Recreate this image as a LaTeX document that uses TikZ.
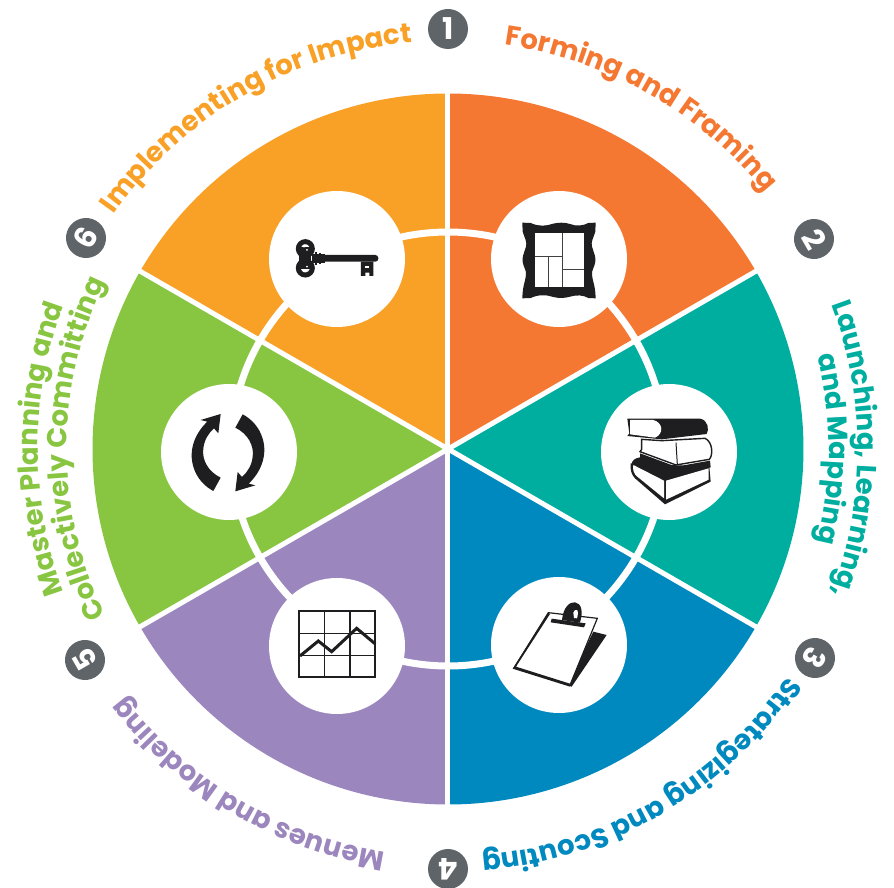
\documentclass[tikz,border=0pt]{standalone}
\usepackage{fontspec}
\setmainfont{Poppins}
\usetikzlibrary{decorations.text}
\definecolor{cForm}{HTML}{F47832}
\definecolor{cLaunch}{HTML}{00AEA0}
\definecolor{cStrat}{HTML}{0089BF}
\definecolor{cMenu}{HTML}{9B86BD}
\definecolor{cMaster}{HTML}{88C540}
\definecolor{cImpl}{HTML}{F9A026}
\definecolor{cBadge}{HTML}{5F6468}
\definecolor{cIcon}{HTML}{1E1E20}
\newcommand{\labfont}{\fontsize{27.5}{27.5}\selectfont\bfseries}
\tikzset{
  divider/.style={draw=white,line width=5pt},
  ringline/.style={draw=white,line width=7pt},
  hub/.style={circle,fill=white,minimum size=136pt,inner sep=0pt},
  badge/.style={circle,fill=cBadge,text=white,minimum size=40pt,inner sep=0pt,font=\fontsize{30}{30}\selectfont\bfseries},
  pixels/.style={shift={(-448,449)},yscale=-1},
  zoomat/.style 2 args={shift={(#1,#2)},scale=1/3},
  ink/.style={fill=cIcon,draw=none},
  inkline/.style={draw=cIcon,line join=miter},
  arclabel/.style 2 args={decorate,decoration={text along path,text color=#1,text align=center,text={|\labfont|#2}}}
}
\begin{document}
\begin{tikzpicture}[x=1pt,y=1pt]
\useasboundingbox (-448,-439) rectangle (446,449);
\coordinate (c) at (0,0);
\def\Rd{355.5}
% sectors
\fill[cForm] (c) -- (90:\Rd) arc[start angle=90,end angle=30,radius=\Rd] -- cycle;
\fill[cLaunch] (c) -- (30:\Rd) arc[start angle=30,end angle=-30,radius=\Rd] -- cycle;
\fill[cStrat] (c) -- (-30:\Rd) arc[start angle=-30,end angle=-90,radius=\Rd] -- cycle;
\fill[cMenu] (c) -- (-90:\Rd) arc[start angle=-90,end angle=-150,radius=\Rd] -- cycle;
\fill[cMaster] (c) -- (-150:\Rd) arc[start angle=-150,end angle=-210,radius=\Rd] -- cycle;
\fill[cImpl] (c) -- (150:\Rd) arc[start angle=150,end angle=90,radius=\Rd] -- cycle;
% dividers
\foreach \a/\n in {90/e1,30/e2,-30/e3,-90/e4,-150/e5,150/e6}{
  \coordinate (\n) at (\a:\Rd+2);
  \draw[divider] (c) -- (\n);
}
% ring
\draw[ringline] (c) circle[radius=217];
% hubs
\node[hub] (h1) at (111,190) {};
\node[hub] (h2) at (221,-3) {};
\node[hub] (h3) at (111,-196) {};
\node[hub] (h4) at (-111,-197) {};
\node[hub] (h5) at (-219,-3) {};
\node[hub] (h6) at (-111,190) {};
% badges
\node[badge] (b1) at (0,420) {1};
\node[badge,rotate=-60] (b2) at (366,210) {2};
\node[badge,rotate=-120] (b3) at (367,-209) {3};
\node[badge,rotate=180] (b4) at (0,-420) {4};
\node[badge,rotate=120] (b5) at (-363,-211) {5};
\node[badge,rotate=60] (b6) at (-362,211) {6};
% labels
\path[arclabel={cForm}{Forming and Framing}] (85.5:408) arc[start angle=85.5,end angle=35.5,radius=408];
\path[arclabel={cLaunch}{Launching, Learning,}] (30:410) arc[start angle=30,end angle=-30,radius=410];
\path[arclabel={cLaunch}{and Mapping}] (30:381) arc[start angle=30,end angle=-30,radius=381];
\path[arclabel={cStrat}{Strategizing and Scouting}] (-20:408) arc[start angle=-20,end angle=-99,radius=408];
\path[arclabel={cMenu}{Menues and Modeling}] (-95:408) arc[start angle=-95,end angle=-146.4,radius=408];
\path[arclabel={cMaster}{Master Planning and}] (-150:410) arc[start angle=-150,end angle=-210,radius=410];
\path[arclabel={cMaster}{Collectively Committing}] (-145:381) arc[start angle=-145,end angle=-215,radius=381];
\path[arclabel={cImpl}{Implementing for Impact}] (158:408) arc[start angle=158,end angle=82,radius=408];
% icons
\begin{scope}[pixels]
% key
\begin{scope}[zoomat={260}{190}]
  \draw[inkline,line width=5pt] (136,176) circle[radius=21];
  \draw[inkline,line width=5pt] (136,234) circle[radius=21];
  \fill[ink] (118,172) rectangle (152,238);
  \fill[white] (132,168) circle[radius=5];
  \fill[white] (141,180) circle[radius=3];
  \fill[white] (132,242) circle[radius=5];
  \fill[white] (141,230) circle[radius=3];
  \fill[white] (105,200) rectangle (112,210);
  \fill[ink] (155,192) rectangle (195,218);
  \fill[ink] (165,186) rectangle (172,224);
  \fill[ink] (178,188) rectangle (184,222);
  \fill[ink,rounded corners=3pt] (185,195) rectangle (355,215);
  \fill[ink] (303,215) -- (340,215) -- (340,258) -- (328,258) -- (328,248) -- (316,248) -- (316,258) -- (303,258) -- cycle;
  \fill[white] (316,228) rectangle (328,233);
\end{scope}
% frame
\begin{scope}[zoomat={260}{190}]
  \fill[ink] (787,98) -- (812,99) .. controls (835,110) and (860,108) .. (880,101)
     .. controls (895,97) and (915,97) .. (930,102)
     .. controls (950,110) and (970,107) .. (985,99) -- (1007,98)
     -- (1006,125) .. controls (1000,145) and (992,155) .. (996,170)
     .. controls (1002,190) and (1008,200) .. (1006,215)
     .. controls (1004,232) and (994,240) .. (996,255)
     .. controls (998,275) and (1006,285) .. (1007,325)
     -- (985,324) .. controls (970,315) and (950,314) .. (930,320)
     .. controls (915,325) and (895,325) .. (880,321)
     .. controls (860,314) and (835,313) .. (812,324) -- (787,325)
     .. controls (788,285) and (796,275) .. (798,255)
     .. controls (800,240) and (790,232) .. (788,215)
     .. controls (786,200) and (792,190) .. (798,170)
     .. controls (802,155) and (794,145) .. (788,125) -- cycle;
  \fill[white] (825,130) rectangle (973,292);
  \draw[draw=cIcon!85,line width=1.2pt] (907,130) -- (907,292);
  \draw[draw=cIcon!85,line width=1.2pt] (825,200) -- (907,200);
  \draw[draw=cIcon!85,line width=1.2pt] (866,200) -- (866,292);
  \draw[draw=cIcon!85,line width=1.2pt] (907,238) -- (973,238);
\end{scope}
% books
\begin{scope}[zoomat={590}{370}]
  \fill[ink] (112,146) -- (330,146) .. controls (355,150) and (358,180) .. (350,192) -- (215,208) -- (112,198) -- (118,190) -- cycle;
  \fill[white] (120,150) -- (190,150) .. controls (220,158) and (222,192) .. (195,203) -- (120,193) -- cycle;
  \draw[inkline,fill=white,line width=1.4pt] (155,208) -- (215,212) -- (345,205) .. controls (368,215) and (370,255) .. (358,268) -- (258,285) -- (150,245) -- (155,238) -- cycle;
  \draw[inkline,line width=1pt] (258,218) -- (262,283);
  \fill[ink] (150,250) -- (258,290) -- (360,272) -- (362,292) -- (225,332) -- (140,285) -- (125,285) .. controls (125,270) and (135,265) .. (150,262) -- cycle;
  \fill[ink] (122,280) .. controls (120,300) and (125,315) .. (135,325) -- (225,403) -- (362,335) -- (358,290) -- cycle;
  \fill[white] (130,285) .. controls (127,300) and (132,312) .. (142,320) -- (222,385) -- (222,332) -- cycle;
  \fill[white] (228,332) -- (356,295) -- (356,329) -- (228,389) -- cycle;
\end{scope}
% clipboard
\begin{scope}[zoomat={480}{570}]
  \fill[ink] (340,185) -- (380,195) -- (275,350) -- (262,345) -- cycle;
  \draw[inkline,fill=white,line width=1.2pt] (205,128) -- (352,145) -- (270,345) -- (102,294) -- cycle;
  \fill[ink] (205,128) -- (102,290) -- (98,296) -- (270,350) -- (273,342) -- (108,290) -- (210,132) -- cycle;
  \fill[ink] (215,146) -- (317,160) -- (312,172) -- (212,157) -- cycle;
  \fill[ink] (246,150) .. controls (250,110) and (270,95) .. (285,97) .. controls (305,100) and (310,125) .. (300,158) -- cycle;
  \fill[white] (280,128) .. controls (282,120) and (287,118) .. (291,120) .. controls (295,124) and (294,135) .. (291,145) -- (282,144) -- cycle;
\end{scope}
% refresh arrows
\begin{scope}[zoomat={150}{370}]
  \fill[ink] (212,132) -- (152,150) -- (172,155) .. controls (135,190) and (115,240) .. (130,290)
     .. controls (140,325) and (165,350) .. (190,363) -- (212,323)
     .. controls (175,305) and (155,270) .. (160,235) .. controls (163,210) and (175,190) .. (192,175) -- (205,190) -- cycle;
  \fill[ink] (256,364) -- (316,346) -- (296,341) .. controls (333,306) and (353,256) .. (338,206)
     .. controls (328,171) and (303,146) .. (278,133) -- (256,173)
     .. controls (293,191) and (313,226) .. (308,261) .. controls (305,286) and (293,306) .. (276,321) -- (263,306) -- cycle;
\end{scope}
% chart
\begin{scope}[zoomat={270}{580}]
  \draw[inkline,line width=1.1pt] (163,93) -- (163,290) (240,93) -- (240,290) (88,160) -- (316,160) (88,226) -- (316,226);
  \draw[inkline,line width=1.8pt] (88,93) rectangle (316,290);
  \draw[inkline,line width=3pt] (90,228) -- (145,183) -- (185,215) -- (260,145) -- (316,192);
\end{scope}
\end{scope}
\end{tikzpicture}
\end{document}
